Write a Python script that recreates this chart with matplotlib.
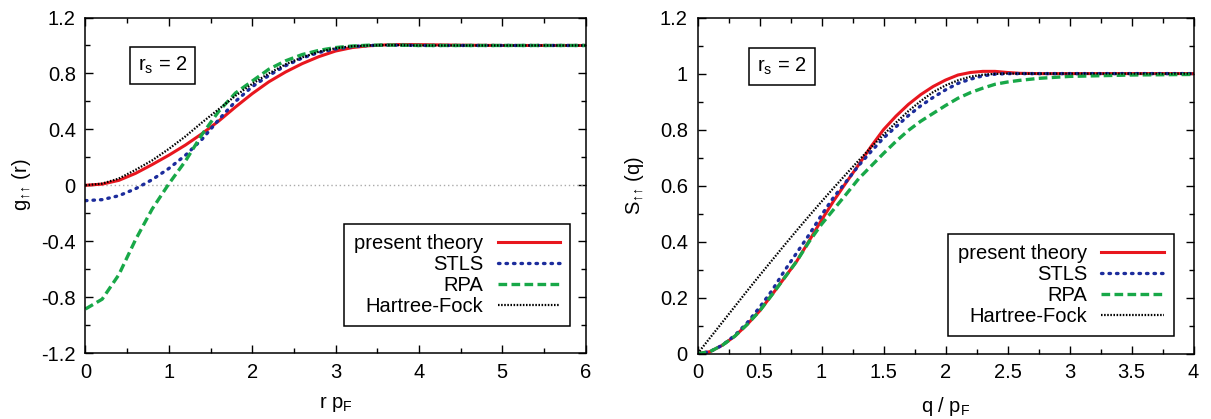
import matplotlib
matplotlib.use("Agg")
import matplotlib.pyplot as plt
from matplotlib.ticker import MultipleLocator, FormatStrFormatter

plt.rcParams['font.family'] = ['Liberation Sans', 'DejaVu Sans']
plt.rcParams['mathtext.fontset'] = 'dejavusans'
plt.rcParams['axes.unicode_minus'] = False

FS = 14.5

# ---- left panel: pair correlation g(r) ----
r = [0, 0.2, 0.4, 0.6, 0.8, 1.0, 1.2, 1.4, 1.6, 1.8, 2.0, 2.2, 2.4, 2.6,
     2.8, 3.0, 3.2, 3.4, 3.6, 3.8, 4.0, 4.5, 5.0, 5.5, 6.0]
g_present = [0, 0.008, 0.035, 0.085, 0.148, 0.215, 0.288, 0.37, 0.46, 0.56,
             0.655, 0.74, 0.81, 0.87, 0.92, 0.96, 0.985, 0.998, 1.004, 1.007,
             1.006, 1.002, 1.0, 1.0, 1.0]
g_stls = [-0.11, -0.103, -0.075, -0.025, 0.04, 0.12, 0.215, 0.33, 0.47, 0.60,
          0.705, 0.785, 0.855, 0.91, 0.95, 0.975, 0.992, 1.0, 1.002, 1.002,
          1.0, 1.0, 1.0, 1.0, 1.0]
g_rpa = [-0.885, -0.815, -0.64, -0.39, -0.17, 0.01, 0.174, 0.365, 0.53, 0.66,
         0.745, 0.83, 0.89, 0.935, 0.965, 0.985, 0.996, 1.002, 1.003, 1.002,
         1.0, 1.0, 1.0, 1.0, 1.0]
g_hf = [0, 0.012, 0.048, 0.11, 0.178, 0.26, 0.35, 0.45, 0.545, 0.64,
        0.725, 0.80, 0.865, 0.915, 0.955, 0.98, 0.995, 1.0, 1.003, 1.002,
        1.0, 1.0, 1.0, 1.0, 1.0]

# ---- right panel: static structure factor S(q) ----
q = [0, 0.1, 0.2, 0.3, 0.4, 0.5, 0.6, 0.7, 0.8, 0.9, 1.0, 1.1, 1.2, 1.3,
     1.4, 1.5, 1.6, 1.7, 1.8, 1.9, 2.0, 2.1, 2.2, 2.3, 2.4, 2.5, 2.6, 2.75,
     3.0, 3.5, 4.0]
s_present = [0, 0.007, 0.03, 0.062, 0.104, 0.152, 0.21, 0.27, 0.33, 0.403,
             0.477, 0.547, 0.612, 0.675, 0.74, 0.80, 0.848, 0.89, 0.925,
             0.954, 0.977, 0.995, 1.004, 1.008, 1.008, 1.004, 1.001, 1.0,
             1.0, 1.0, 1.0]
s_stls = [0, 0.007, 0.03, 0.065, 0.11, 0.165, 0.225, 0.295, 0.36, 0.425,
          0.495, 0.56, 0.615, 0.672, 0.722, 0.77, 0.81, 0.85, 0.885, 0.915,
          0.942, 0.965, 0.98, 0.992, 0.998, 1.0, 1.0, 1.0, 1.0, 1.0, 1.0]
s_rpa = [0, 0.007, 0.03, 0.062, 0.104, 0.152, 0.21, 0.27, 0.33, 0.40,
         0.462, 0.516, 0.57, 0.625, 0.67, 0.715, 0.758, 0.797, 0.83, 0.858,
         0.886, 0.912, 0.932, 0.948, 0.962, 0.97, 0.976, 0.983, 0.99,
         0.995, 0.997]
s_hf = [0, 0.056, 0.112, 0.168, 0.224, 0.279, 0.333, 0.387, 0.44, 0.492,
        0.543, 0.593, 0.642, 0.69, 0.737, 0.782, 0.825, 0.866, 0.902, 0.934,
        0.958, 0.976, 0.989, 0.996, 0.999, 1.0, 1.0, 1.0, 1.0, 1.0, 1.0]

labels = ['present theory', 'STLS', 'RPA', 'Hartree-Fock']
styles = [
    dict(color='#e8161e', lw=2.2, ls='-'),
    dict(color='#1c2c9c', lw=2.4, ls=(0, (0.45, 1.8)), dash_capstyle='round'),
    dict(color='#18a848', lw=2.4, ls=(0, (2.6, 1.3))),
    dict(color='black', lw=1.6, ls=(0, (0.7, 0.7))),
]


def style_axes(ax):
    ax.tick_params(which='both', direction='in', top=True, right=True,
                   labelsize=FS, width=1.0)
    ax.tick_params(which='major', length=6, pad=7)
    ax.tick_params(which='minor', length=3.5)
    for sp in ax.spines.values():
        sp.set_linewidth(1.1)


def add_legend(ax, handles, anchor):
    leg = ax.legend(handles, labels, loc='lower right', bbox_to_anchor=anchor,
                    borderaxespad=0, markerfirst=False, fontsize=FS,
                    handlelength=3.1, handletextpad=0.7, labelspacing=0.1,
                    fancybox=False, framealpha=1, edgecolor='black',
                    borderpad=0.5)
    leg.get_frame().set_linewidth(1.1)


def rs_box(ax, x, y):
    ax.text(x, y, r'r$_\mathregular{s}$ = 2', transform=ax.transAxes,
            fontsize=FS, ha='center', va='center',
            bbox=dict(boxstyle='square,pad=0.4', fc='white', ec='black',
                      lw=1.1))


fig = plt.figure(figsize=(12.11, 4.19), dpi=100)
ax1 = fig.add_axes([0.0706, 0.1575, 0.4129, 0.8007])
ax2 = fig.add_axes([0.576, 0.1560, 0.4096, 0.8020])

# left
ax1.axhline(0, color='#aaaaaa', lw=1.0, ls=(0, (1, 2)))
h1 = [ax1.plot(r, y, **st)[0] for y, st in
      zip([g_present, g_stls, g_rpa, g_hf], styles)]
ax1.set_xlim(0, 6)
ax1.set_ylim(-1.2, 1.2)
ax1.xaxis.set_major_locator(MultipleLocator(1))
ax1.xaxis.set_minor_locator(MultipleLocator(0.5))
ax1.yaxis.set_major_locator(MultipleLocator(0.4))
ax1.yaxis.set_minor_locator(MultipleLocator(0.2))
ax1.xaxis.set_major_formatter(FormatStrFormatter('%g'))
ax1.yaxis.set_major_formatter(FormatStrFormatter('%g'))
ax1.set_xlabel(r'r p$_\mathregular{F}$', fontsize=FS, labelpad=9)
ax1.set_ylabel(r'g$_\mathregular{↑↑}$ (r)', fontsize=FS, labelpad=6)
style_axes(ax1)
add_legend(ax1, h1, (0.969, 0.08))
rs_box(ax1, 0.154, 0.857)

# right
h2 = [ax2.plot(q, y, **st)[0] for y, st in
      zip([s_present, s_stls, s_rpa, s_hf], styles)]
ax2.set_xlim(0, 4)
ax2.set_ylim(0, 1.2)
ax2.xaxis.set_major_locator(MultipleLocator(0.5))
ax2.xaxis.set_minor_locator(MultipleLocator(0.25))
ax2.yaxis.set_major_locator(MultipleLocator(0.2))
ax2.yaxis.set_minor_locator(MultipleLocator(0.1))
ax2.xaxis.set_major_formatter(FormatStrFormatter('%g'))
ax2.yaxis.set_major_formatter(FormatStrFormatter('%g'))
ax2.set_xlabel(r'q / p$_\mathregular{F}$', fontsize=FS, labelpad=9)
ax2.set_ylabel(r'S$_\mathregular{↑↑}$ (q)', fontsize=FS, labelpad=10)
style_axes(ax2)
add_legend(ax2, h2, (0.96, 0.053))
rs_box(ax2, 0.17, 0.855)

fig.savefig('out.png', dpi=100, facecolor='white')
